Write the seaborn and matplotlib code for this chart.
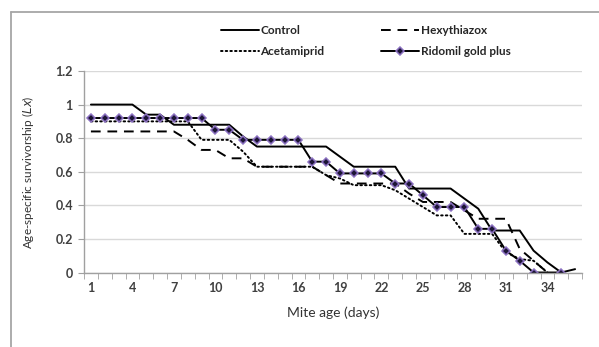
import numpy as np
import pandas as pd
import matplotlib
matplotlib.use("Agg")
import matplotlib.pyplot as plt
import seaborn as sns
from matplotlib.lines import Line2D

days = list(range(1, 37))
control = [1.0, 1.0, 1.0, 1.0, 0.94, 0.94, 0.88, 0.88, 0.88, 0.88, 0.88, 0.81,
           0.75, 0.75, 0.75, 0.75, 0.75, 0.75, 0.69, 0.63, 0.63, 0.63, 0.63, 0.50,
           0.50, 0.50, 0.50, 0.44, 0.38, 0.25, 0.25, 0.25, 0.13, 0.06, 0.0, 0.02]
hexythiazox = [0.84, 0.84, 0.84, 0.84, 0.84, 0.84, 0.84, 0.79, 0.73, 0.73, 0.68, 0.68,
               0.63, 0.63, 0.63, 0.63, 0.63, 0.58, 0.53, 0.53, 0.53, 0.53, 0.53, 0.47,
               0.42, 0.42, 0.42, 0.37, 0.32, 0.32, 0.32, 0.14, 0.07, 0.0, np.nan, np.nan]
acetamiprid = [0.90, 0.90, 0.90, 0.90, 0.90, 0.90, 0.90, 0.90, 0.79, 0.79, 0.79, 0.72,
               0.63, 0.63, 0.63, 0.63, 0.63, 0.58, 0.56, 0.52, 0.52, 0.52, 0.49, 0.44,
               0.39, 0.34, 0.34, 0.23, 0.23, 0.23, 0.12, 0.08, 0.07, 0.0, np.nan, np.nan]
ridomil = [0.92, 0.92, 0.92, 0.92, 0.92, 0.92, 0.92, 0.92, 0.92, 0.85, 0.85, 0.79,
           0.79, 0.79, 0.79, 0.79, 0.66, 0.66, 0.59, 0.59, 0.59, 0.59, 0.53, 0.53,
           0.46, 0.39, 0.39, 0.39, 0.26, 0.26, 0.13, 0.07, 0.0, np.nan, 0.0, np.nan]
series_names = ["Control", "Hexythiazox", "Acetamiprid", "Ridomil gold plus"]
x_tick_labels = [1, 4, 7, 10, 13, 16, 19, 22, 25, 28, 31, 34]
y_ticks = [0, 0.2, 0.4, 0.6, 0.8, 1.0, 1.2]
y_tick_labels = ["0", "0.2", "0.4", "0.6", "0.8", "1", "1.2"]

sns.set_style("white")
plt.rcParams['font.family'] = ['Lato', 'DejaVu Sans']

W, H = 599, 347
fig = plt.figure(figsize=(W / 100, H / 100), dpi=100)
ax = fig.add_axes([84 / W, 1 - 272.5 / H, (582 - 84) / W, (272.5 - 71) / H])

lw = 1.4
dash = (0, (5, 3.5))
dots = (0, (0.8, 1.6))
sns.lineplot(x=days, y=control, ax=ax, color="black", linewidth=lw, errorbar=None)
sns.lineplot(x=days, y=hexythiazox, ax=ax, color="black", linewidth=lw,
             linestyle=dash, errorbar=None)
sns.lineplot(x=days, y=acetamiprid, ax=ax, color="black", linewidth=lw,
             linestyle=dots, dash_capstyle="round", errorbar=None)
sns.lineplot(x=days, y=ridomil, ax=ax, color="black", linewidth=lw, marker="D",
             markersize=4.5, markerfacecolor="#1c1535", markeredgecolor="#8a6fc0",
             markeredgewidth=1.1, errorbar=None)

ax.set_xlim(0.5, 36.5)
ax.set_ylim(0, 1.2)
ax.set_yticks(y_ticks)
ax.set_yticklabels(y_tick_labels)
ax.set_xticks(x_tick_labels)
ax.set_xticklabels([str(v) for v in x_tick_labels])
ax.set_xticks(np.arange(0.5, 37, 1), minor=True)
ax.tick_params(axis="x", which="major", length=0, pad=7, labelsize=9, labelcolor="#404040")
ax.tick_params(axis="x", which="minor", length=4, color="#a0a0a0", direction="out", bottom=True)
ax.tick_params(axis="y", which="major", length=4, color="#a0a0a0", direction="out",
               left=True, pad=4, labelsize=9, labelcolor="#404040")
for lab in ax.get_xticklabels() + ax.get_yticklabels():
    lab.set_fontweight("bold")

ax.grid(axis="y", color="#d9d9d9", linewidth=1.0)
ax.grid(axis="x", visible=False)
ax.set_axisbelow(True)
for s in ["top", "right"]:
    ax.spines[s].set_visible(False)
for s in ["left", "bottom"]:
    ax.spines[s].set_color("#a0a0a0")
    ax.spines[s].set_linewidth(1.0)

ax.set_xlabel("Mite age (days)", fontsize=10, color="#333333", labelpad=9)
ax.set_ylabel("Age-specific survivorship ($\\it{Lx}$)", fontsize=8.5, color="#333333", labelpad=14)

handles = [
    Line2D([], [], color="black", linewidth=lw),
    Line2D([], [], color="black", linewidth=lw, linestyle=dash),
    Line2D([], [], color="black", linewidth=lw, linestyle=dots, dash_capstyle="round"),
    Line2D([], [], color="black", linewidth=lw, marker="D", markersize=4.5,
           markerfacecolor="#1c1535", markeredgecolor="#8a6fc0", markeredgewidth=1.1),
]
order = [0, 2, 1, 3]
leg = fig.legend([handles[i] for i in order], [series_names[i] for i in order],
                 loc="upper left", bbox_to_anchor=(216 / W, 1 - 20 / H), ncol=2,
                 frameon=False, handlelength=3.2, handletextpad=0.15,
                 columnspacing=4.8, labelspacing=0.85, borderaxespad=0,
                 prop={"weight": "bold", "size": 8.5})
for t in leg.get_texts():
    t.set_color("#262626")

# outer chart frame (partially cropped in the reference)
fig.add_artist(Line2D([10.5 / W, 10.5 / W], [-0.1, 1 - 11.5 / H], transform=fig.transFigure,
                      color="#a6a6a6", linewidth=1.3))
fig.add_artist(Line2D([10.5 / W, 1.1], [1 - 11.5 / H, 1 - 11.5 / H], transform=fig.transFigure,
                      color="#a6a6a6", linewidth=1.3))

fig.savefig("out.png", dpi=100, facecolor="white")
